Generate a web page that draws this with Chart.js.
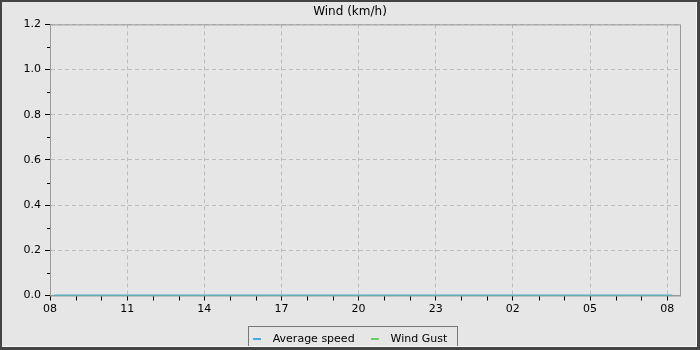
<!DOCTYPE html>
<html>
<head>
<meta charset="utf-8">
<script src="https://cdn.jsdelivr.net/npm/chart.js@4/dist/chart.umd.min.js"></script>
<style>
  body { margin: 0; background: #e6e6e6; }
  #wrap { width: 700px; height: 350px; }
</style>
</head>
<body>
<div id="wrap"><canvas id="wind"></canvas></div>
<script>
// Wind chart, 24h window starting 08:00 (x = hours since 08:00).
let sampleHours = [0.15, 1, 2, 3, 4, 5, 6, 7, 8, 9, 10, 11, 12, 13, 14, 15, 16, 17, 18, 19, 20, 21, 22, 23, 24.2];
let avgSpeed = [0, 0, 0, 0, 0, 0, 0, 0, 0, 0, 0, 0, 0, 0, 0, 0, 0, 0, 0, 0, 0, 0, 0, 0, 0];
let windGust = [0, 0, 0, 0, 0, 0, 0, 0, 0, 0, 0, 0, 0, 0, 0, 0, 0, 0, 0, 0, 0, 0, 0, 0, 0];
let xTickHours = [0, 3, 6, 9, 12, 15, 18, 21, 24];
let xMinorHours = [1, 2, 4, 5, 7, 8, 10, 11, 13, 14, 16, 17, 19, 20, 22, 23];
let yTicks = [0, 0.2, 0.4, 0.6, 0.8, 1.0, 1.2];
let yMinor = [0.1, 0.3, 0.5, 0.7, 0.9, 1.1];
let startHour = 8;

const FONT = "'DejaVu Sans', sans-serif";

// legend marker: short line on the left of a wider box, so text sits further away
function legendMark(color){
    let c = document.createElement("canvas");
    c.width = 14;
    c.height = 2;
    let g = c.getContext("2d");
    g.fillStyle = color;
    g.fillRect(0, 0, 8, 2);
    return c;
}

function toPoints(values){
    return values.map((v, i) => ({x: sampleHours[i], y: v}));
}

const frame = {
    id: "frame",
    beforeDraw(chart){
        let ctx = chart.ctx;
        ctx.save();
        ctx.fillStyle = "#e6e6e6";
        ctx.fillRect(0, 0, chart.width, chart.height);
        ctx.restore();
    },
    beforeDatasetsDraw(chart){
        let ctx = chart.ctx;
        let a = chart.chartArea;
        ctx.save();
        // plot border
        ctx.strokeStyle = "#999";
        ctx.lineWidth = 1;
        ctx.strokeRect(a.left + 0.5, a.top + 0.5, a.right - a.left, a.bottom - a.top);
        // minor ticks
        ctx.strokeStyle = "#000";
        let xs = chart.scales.x, ys = chart.scales.y;
        ctx.beginPath();
        xMinorHours.forEach(v => {
            let px = Math.round(xs.getPixelForValue(v)) + 0.5;
            ctx.moveTo(px, a.bottom + 1);
            ctx.lineTo(px, a.bottom + 5);
        });
        yMinor.forEach(v => {
            let py = Math.round(ys.getPixelForValue(v)) + 0.5;
            ctx.moveTo(a.left - 3, py);
            ctx.lineTo(a.left, py);
        });
        ctx.stroke();
        ctx.restore();
    },
    afterDraw(chart){
        let ctx = chart.ctx;
        let w = chart.width, h = chart.height;
        ctx.save();
        // legend box
        let hb = chart.legend.legendHitBoxes;
        if (hb && hb.length) {
            let l = hb[0].left - 5;
            let r = hb[hb.length - 1].left + hb[hb.length - 1].width + 9;
            let t = hb[0].top - 8;
            ctx.strokeStyle = "#777";
            ctx.lineWidth = 1;
            ctx.strokeRect(Math.round(l) + 0.5, Math.round(t) + 0.5, Math.round(r - l), 22);
        }
        // outer frame
        ctx.fillStyle = "#444";
        ctx.fillRect(0, 0, w, 2);
        ctx.fillRect(0, 0, 2, h);
        ctx.fillRect(w - 3, 0, 3, h);
        ctx.fillRect(0, h - 3, w, 3);
        ctx.fillStyle = "#fafafa";
        ctx.fillRect(w - 4, 2, 1, h - 5);
        ctx.fillRect(2, h - 4, w - 5, 1);
        ctx.restore();
    }
};

new Chart(document.getElementById("wind"), {
    type: "line",
    data: {
        datasets: [
            {label: "Average speed",
            data: toPoints(avgSpeed),
            borderColor: "#4aa8dc",
            backgroundColor: "#4aa8dc",
            borderWidth: 2,
            pointRadius: 0,
            pointStyle: legendMark("#4aa8dc"),
            order: 1,
        },
            {label: "Wind Gust",
            data: toPoints(windGust),
            borderColor: "#66d066",
            backgroundColor: "#66d066",
            borderWidth: 1,
            pointRadius: 0,
            pointStyle: legendMark("#66d066"),
            order: 2,
        }]
    },
    options: {
        responsive: true,
        maintainAspectRatio: false,
        animation: false,
        layout: {padding: {left: 0, right: 0, top: 0, bottom: -4.5}},
        plugins: {
            title: {
                display: true,
                text: "Wind (km/h)",
                color: "#000",
                font: {family: FONT, size: 12, weight: "normal"},
                padding: {top: 5, bottom: 5},
            },
            legend: {
                position: "bottom",
                labels: {
                    color: "#000",
                    font: {family: FONT, size: 11},
                    usePointStyle: true,
                    pointStyleWidth: 14.5,
                    padding: 16,
                },
            },
            tooltip: {enabled: false},
        },
        scales: {
            x: {
                type: "linear",
                min: 0,
                max: 24.5,
                afterBuildTicks: s => { s.ticks = xTickHours.map(v => ({value: v})); },
                afterFit: s => { s.height = 22; },
                ticks: {
                    color: "#000",
                    font: {family: FONT, size: 11},
                    padding: 2,
                    maxRotation: 0,
                    autoSkip: false,
                    callback: v => String((startHour + v) % 24).padStart(2, "0"),
                },
                grid: {color: "#bdbdbd", tickColor: "#000", tickLength: 5},
                border: {color: "#999", dash: [4, 3]},
            },
            y: {
                min: 0,
                max: 1.2,
                afterBuildTicks: s => { s.ticks = yTicks.map(v => ({value: v})); },
                afterFit: s => { s.width = 50; },
                ticks: {
                    color: "#000",
                    font: {family: FONT, size: 11},
                    padding: 4,
                    callback: v => v.toFixed(1),
                },
                grid: {color: "#bdbdbd", tickColor: "#000", tickLength: 5},
                border: {color: "#999", dash: [4, 3]},
            },
            // empty right-hand strip so the plot stops at 680 while the legend centres on the page
            pad: {
                type: "linear",
                position: "right",
                afterFit: s => { s.width = 20; },
                ticks: {display: false},
                grid: {display: false},
                border: {display: false},
            }
        }
    },
    plugins: [frame]
});
</script>
</body>
</html>
